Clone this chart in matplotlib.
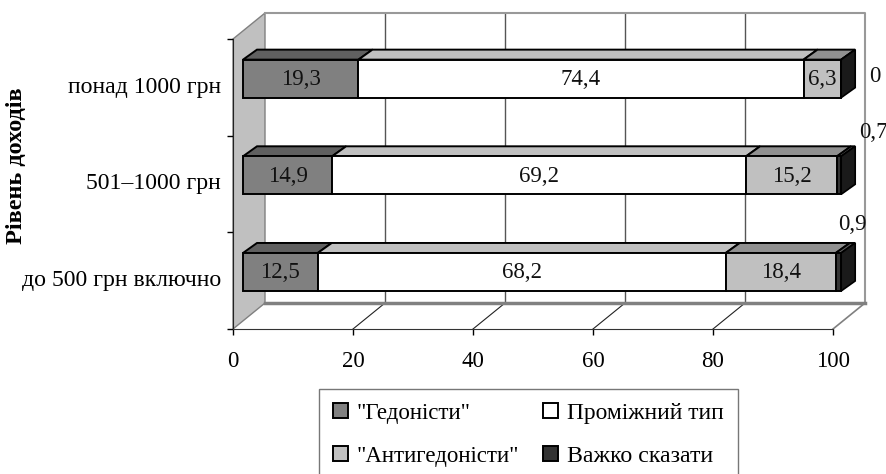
import matplotlib
matplotlib.use("Agg")
import matplotlib.pyplot as plt
from matplotlib.patches import Polygon, Patch

plt.rcParams['font.family'] = ['Liberation Serif', 'DejaVu Serif']

# bottom to top
categories = ["до 500 грн включно", "501–1000 грн", "понад 1000 грн"]
hedonists = [12.5, 14.9, 19.3]
middle = [68.2, 69.2, 74.4]
anti = [18.4, 15.2, 6.3]
hard = [0.9, 0.7, 0]
series = [hedonists, middle, anti, hard]
series_names = ['"Гедоністи"', "Проміжний тип", '"Антигедоністи"', "Важко сказати"]
x_ticks = [0, 20, 40, 60, 80, 100]

front_colors = ["#808080", "#ffffff", "#c0c0c0", "#333333"]
top_colors = ["#606060", "#c0c0c0", "#909090", "#606060"]

W, H = 887, 474
px_x = 100 / 600   # data units per pixel
px_y = 3 / 290
FS = 16.5

fig = plt.figure(figsize=(W / 100, H / 100), dpi=100)
ax = fig.add_axes([233 / W, (H - 329) / H, 600 / W, 290 / H])
ax.set_xlim(0, 100)
ax.set_ylim(0, 3)
ax.patch.set_visible(False)

# 3d box depth
dx, dy = 32 * px_x, 26 * px_y
# walls and floor
ax.add_patch(Polygon([(0, 0), (dx, dy), (dx, 3 + dy), (0, 3)], closed=True,
                     fc="#c0c0c0", ec="#808080", lw=1, clip_on=False, zorder=1))
for t in x_ticks[1:-1]:
    ax.plot([t + dx, t + dx], [dy, 3 + dy], color="#555555", lw=1, clip_on=False, zorder=1)
    ax.plot([t, t + dx], [0, dy], color="#222222", lw=0.8, clip_on=False, zorder=1)
ax.plot([dx, 100 + dx, 100 + dx], [3 + dy, 3 + dy, dy], color="#999999", lw=1.5, clip_on=False, zorder=1)
ax.plot([dx, 100 + dx], [dy, dy], color="#808080", lw=2.5, clip_on=False, zorder=1)
ax.plot([100, 100 + dx], [0, dy], color="#808080", lw=1.2, clip_on=False, zorder=1)

# bars
bar_left = 10 * px_x
bar_scale = 0.997
bar_h = 38 * px_y
bar_dx, bar_dy = 14 * px_x, 10 * px_y
centers = [i + 0.59 for i in range(3)]

for c, y in enumerate(centers):
    cum = 0
    for s, vals in enumerate(series):
        v = vals[c]
        x0 = bar_left + cum * bar_scale
        w = v * bar_scale
        top = y + bar_h / 2
        ax.add_patch(Polygon([(x0, top), (x0 + w, top), (x0 + w + bar_dx, top + bar_dy), (x0 + bar_dx, top + bar_dy)],
                             closed=True, fc=top_colors[s], ec="black", lw=1.4, clip_on=False, zorder=3))
        ax.barh(y, w, left=x0, height=bar_h, color=front_colors[s], edgecolor="black", linewidth=1.4,
                clip_on=False, zorder=4)
        cum += v
    # end face
    xe = bar_left + cum * bar_scale
    bot = y - bar_h / 2
    top = y + bar_h / 2
    ax.add_patch(Polygon([(xe, bot), (xe + bar_dx, bot + bar_dy), (xe + bar_dx, top + bar_dy), (xe, top)],
                         closed=True, fc="#1a1a1a", ec="black", lw=1.2, clip_on=False, zorder=3))
    # value labels inside the segments
    cum = 0
    for s in range(3):
        v = series[s][c]
        ax.text(bar_left + (cum + v / 2) * bar_scale, y - 0.01, f"{v}".replace(".", ","), ha="center", va="center",
                fontsize=FS, color="#111111", zorder=5)
        cum += v

# labels of the last series, put off the bar by hand
hard_offsets = [(11, 47), (32, 43), (34, 2)]
for c, y in enumerate(centers):
    ax.annotate(f"{hard[c]}".replace(".", ","), xy=(bar_left + 100 * bar_scale, y), xytext=hard_offsets[c],
                textcoords="offset pixels", ha="center", va="center", fontsize=FS, color="#111111",
                annotation_clip=False, zorder=5)

ax.spines[["top", "right"]].set_visible(False)
ax.spines["left"].set_color("#222222")
ax.spines["bottom"].set_color("#333333")
ax.spines["left"].set_zorder(2)
ax.spines["bottom"].set_zorder(2)
ax.set_xticks(x_ticks)
ax.set_yticks([0, 1, 2, 3])
ax.set_yticklabels([])
ax.tick_params(axis="x", length=4.5, width=1, labelsize=FS, pad=11)
ax.tick_params(axis="y", length=4.5, width=1)
for i, name in enumerate(categories):
    ax.annotate(name, xy=(0, i + 0.5), xytext=(-12, 0), textcoords="offset pixels", ha="right", va="center",
                fontsize=17.1, annotation_clip=False)

fig.text(17 / W, 1 - 166 / H, "Рівень доходів", rotation=90, ha="center", va="center", fontsize=17.5, fontweight="bold")

handles = [Patch(fc=front_colors[i], ec="black", lw=1.4) for i in [0, 2, 1, 3]]
labels = [series_names[i] for i in [0, 2, 1, 3]]
leg = fig.legend(handles, labels, ncol=2, loc="upper left", bbox_to_anchor=(319 / W, 1 - 389 / H),
                 bbox_transform=fig.transFigure, frameon=True, fancybox=False, fontsize=FS,
                 handlelength=0.65, handleheight=0.65, handletextpad=0.4, columnspacing=1.05,
                 labelspacing=0.95, borderpad=0.6, borderaxespad=0)
leg.get_frame().set_edgecolor("#555555")
leg.get_frame().set_linewidth(1)
# second column runs wider in the reference
leg.get_texts()[2].set_fontsize(16.9)
leg.get_texts()[3].set_fontsize(17.2)

fig.savefig("out.png", dpi=100)
